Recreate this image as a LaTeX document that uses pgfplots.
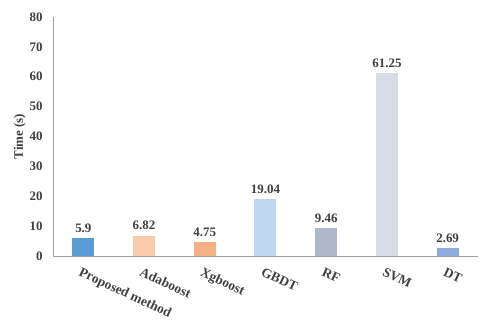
\documentclass[border=0pt]{standalone}
\usepackage{fontspec}
\setmainfont{Liberation Serif}
\usepackage{pgfplots}
\pgfplotsset{compat=1.18}

\definecolor{txt}{HTML}{404040}
\definecolor{axgray}{HTML}{A0A0A0}
\definecolor{cA}{HTML}{5B9BD5}
\definecolor{cB}{HTML}{F8CBAD}
\definecolor{cC}{HTML}{F4B183}
\definecolor{cD}{HTML}{BDD7EE}
\definecolor{cE}{HTML}{ADB9CA}
\definecolor{cF}{HTML}{D6DCE5}
\definecolor{cG}{HTML}{8FAADC}

\begin{document}
\begin{tikzpicture}
% fixed frame with the reference's margins round the axis
\useasboundingbox (-53bp,-71bp) rectangle (436bp,256bp);
\begin{axis}[
  at={(0,0)}, anchor=south west,
  scale only axis,
  width=425bp, height=239bp,
  ybar, bar width=22bp, bar shift=0pt,
  xmin=-0.5, xmax=6.5,
  ymin=0, ymax=80, ytick={0,10,...,80},
  xtick={0,...,6},
  xticklabels={Proposed method, Adaboost, Xgboost, GBDT, RF, SVM, DT},
  axis x line*=bottom, axis y line*=left,
  axis line style={axgray, line width=0.8pt, -},
  major tick length=0pt,
  tick label style={font=\bfseries\fontsize{13}{13}\selectfont, text=txt},
  x tick label style={font=\bfseries\fontsize{13.5}{13.5}\selectfont,
    rotate=-25, anchor=north west, xshift=0bp, yshift=-7bp},
  y tick label style={xshift=-7bp},
  /pgf/number format/assume math mode=true,
  ylabel={Time (s)},
  ylabel style={font=\bfseries\fontsize{13}{13}\selectfont, text=txt, yshift=-3bp},
  nodes near coords,
  point meta=explicit symbolic,
  nodes near coords style={font=\bfseries\fontsize{13}{13}\selectfont, text=txt, yshift=2bp},
]
\addplot[draw=none, fill=cA] coordinates {(0,5.9) [5.9]};
\addplot[draw=none, fill=cB] coordinates {(1,6.82) [6.82]};
\addplot[draw=none, fill=cC] coordinates {(2,4.75) [4.75]};
\addplot[draw=none, fill=cD] coordinates {(3,19.04) [19.04]};
\addplot[draw=none, fill=cE] coordinates {(4,9.46) [9.46]};
\addplot[draw=none, fill=cF] coordinates {(5,61.25) [61.25]};
\addplot[draw=none, fill=cG] coordinates {(6,2.69) [2.69]};
\end{axis}
\end{tikzpicture}
\end{document}
